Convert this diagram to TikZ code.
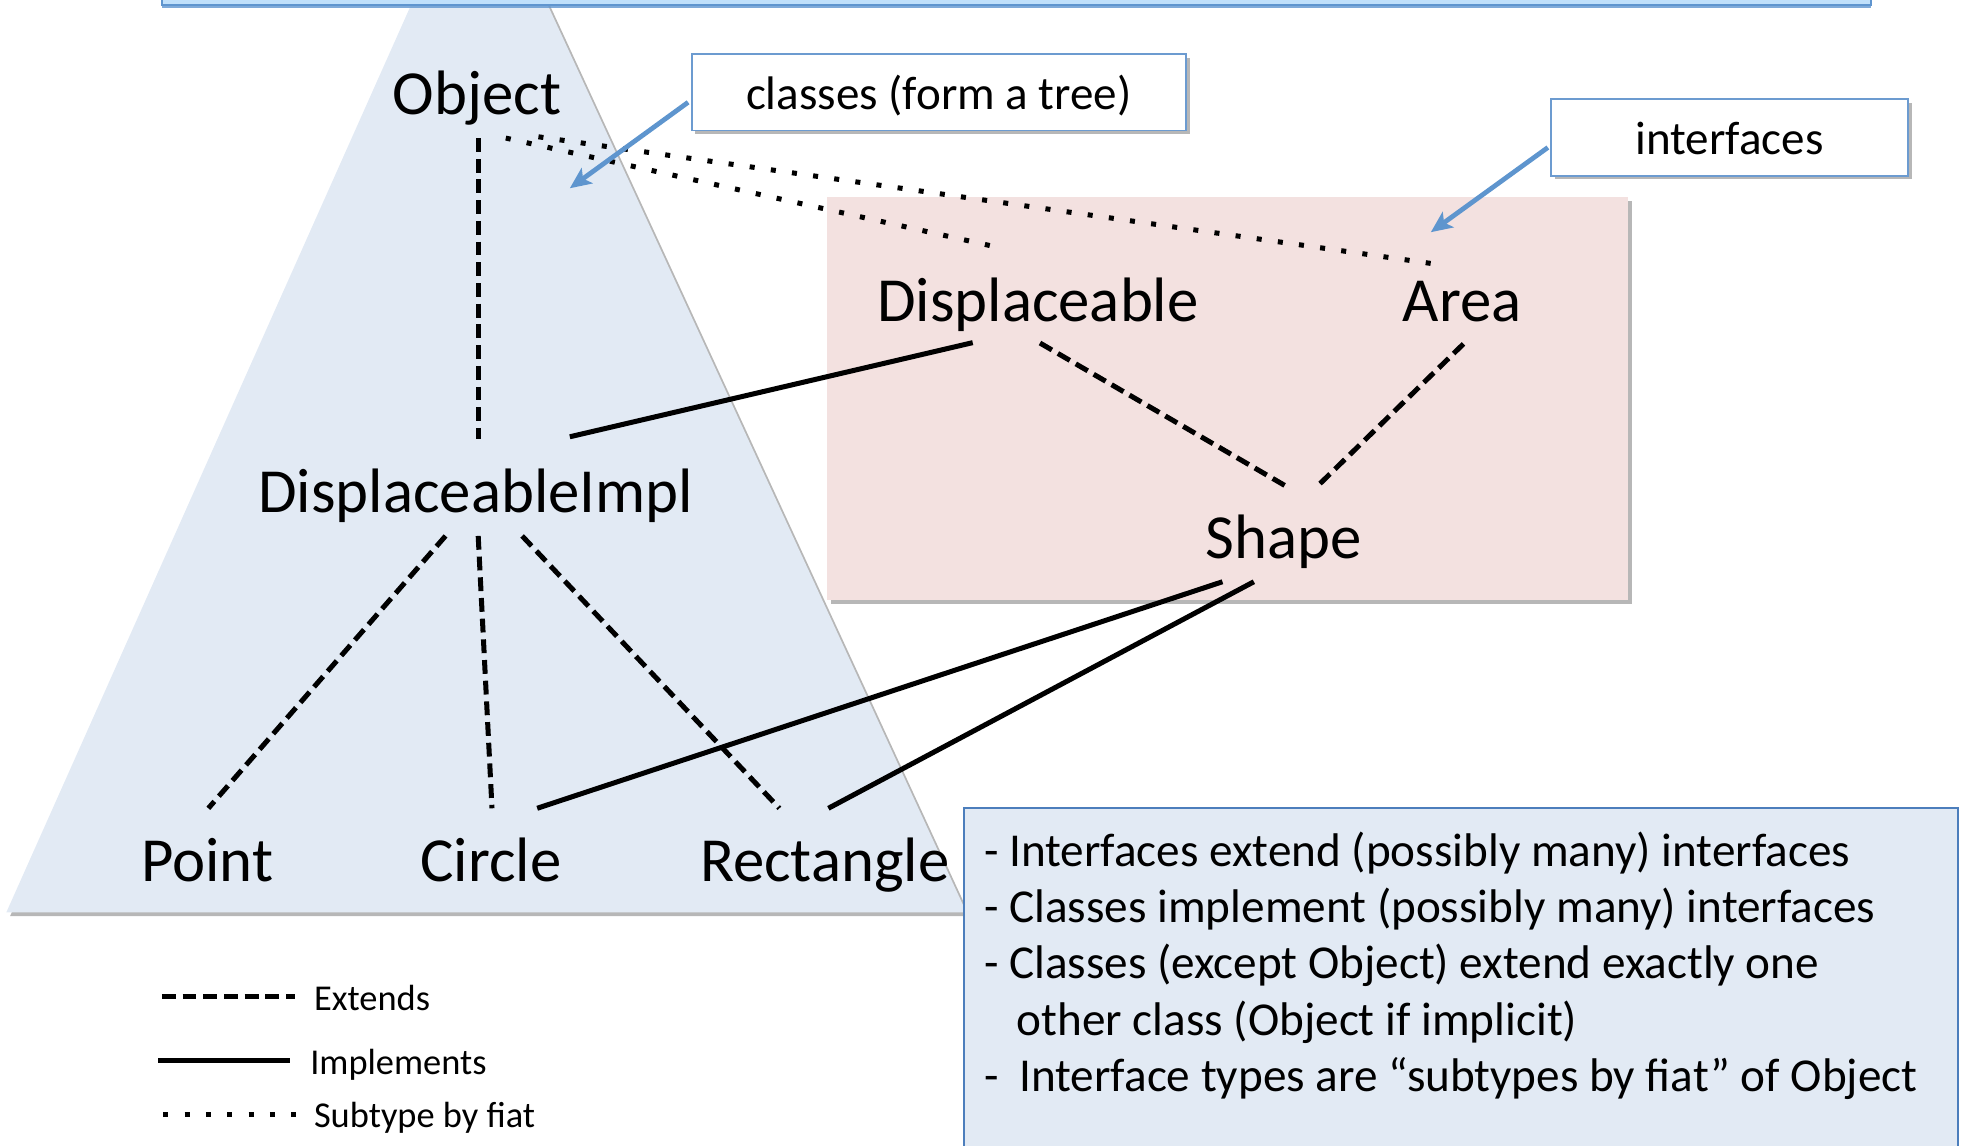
\documentclass[tikz,border=0pt]{standalone}
\usepackage{fontspec}
\setmainfont{Carlito}
\usetikzlibrary{arrows.meta,shadows,calc}

\definecolor{bannerfill}{HTML}{C0E0FB}
\definecolor{bannerline}{HTML}{5F95CF}
\definecolor{classfill}{HTML}{E2EAF4}
\definecolor{ifacefill}{HTML}{F3E1E0}
\definecolor{calloutline}{HTML}{6C9BD0}
\definecolor{notesline}{HTML}{4C7EBC}
\definecolor{pointer}{HTML}{5E95CE}

\begin{document}
\begin{tikzpicture}[
  x=1pt, y=-1pt,
  typename/.style={font=\fontsize{50}{60}\selectfont, inner sep=0pt, anchor=base},
  extends/.style={line width=4pt, dash pattern=on 11pt off 5.5pt},
  implements/.style={line width=4pt},
  fiat/.style={line width=4pt, dash pattern=on 4pt off 13pt},
  softshadow/.style={drop shadow={shadow xshift=3pt, shadow yshift=-3pt, opacity=0.4, fill=black!70}},
  callout/.style={draw=calloutline, line width=1.5pt, fill=white, inner sep=0pt,
    minimum height=61pt, text height=30pt, text depth=3pt,
    font=\fontsize{37.5}{45}\selectfont, softshadow},
  pointerarrow/.style={draw=pointer, line width=3.8pt, -{Stealth[length=17pt,width=15pt,inset=4pt]}},
  notetext/.style={font=\fontsize{37.6}{45}\selectfont, inner sep=0pt, anchor=base west},
  legendtext/.style={font=\fontsize{29}{35}\selectfont, inner sep=0pt, anchor=base west},
]
\useasboundingbox (0,0) rectangle (1568,913);
\clip (0,0) rectangle (1568,913);

% background regions: class tree, title strip, interface area
\fill[classfill, softshadow] (5,727) -- (381,-116) -- (770,727) -- cycle;
\path[draw=bannerline, line width=1.5pt, fill=bannerfill,
  drop shadow={shadow xshift=0pt, shadow yshift=-2.5pt, opacity=0.8, fill=bannerline}]
  (129,-30) rectangle (1491,4);
\fill[ifacefill, softshadow] (659,157) rectangle (1297,478);

% type names
\node[typename] (obj)    at (380,91)  {Object};
\node[typename] (disp)   at (827,256) {Displaceable};
\node[typename] (area)   at (1165,256) {Area};
\node[typename] (impl)   at (379,408) {DisplaceableImpl};
\node[typename] (shape)  at (1023,445) {Shape};
\node[typename] (point)  at (165,702) {Point};
\node[typename] (circle) at (391,702) {Circle};
\node[typename] (rect)   at (657,702) {Rectangle};

% subtype by fiat
\draw[fiat] ($(obj.base)+(23,19)$) -- ($(disp.base)+(-29.5,-58.4)$);
\draw[fiat] ($(obj.base)+(49,18)$) -- ($(area.base)+(-17,-45)$);

% extends
\draw[extends] ($(obj.base)+(1,19)$) -- ($(impl.base)+(2,-58)$);
\draw[extends] ($(disp.base)+(1.6,17.3)$) -- ($(shape.base)+(1,-58)$);
\draw[extends] ($(area.base)+(1,18)$) -- ($(shape.base)+(27,-58)$);
\draw[extends] ($(impl.base)+(-24,19)$) -- ($(point.base)+(1,-58)$);
\draw[extends] ($(impl.base)+(2,19)$) -- ($(circle.base)+(1,-58)$);
\draw[extends] ($(impl.base)+(37,19)$) -- ($(rect.base)+(-36,-58)$);

% implements
\draw[implements] ($(impl.base)+(75,-60)$) -- ($(disp.base)+(-52,17)$);
\draw[implements] ($(shape.base)+(-49,18.5)$) -- ($(circle.base)+(37,-58)$);
\draw[implements] ($(shape.base)+(-24,18.5)$) -- ($(rect.base)+(3,-58)$);

% callouts
\node[callout, minimum width=394pt] (classes) at (748,73.5) {classes (form a tree)};
\node[callout, minimum width=284pt] (ifaces) at (1378,109.5) {interfaces};
\coordinate (classtip) at (454,150);
\coordinate (ifacetip) at (1140,185);
\draw[pointerarrow] ($(classes.west)+(-2,8)$) -- (classtip);
\draw[pointerarrow] ($(ifaces.west)+(-2,8)$) -- (ifacetip);

% notes
\path[draw=notesline, line width=1.5pt, fill=classfill] (768,644) rectangle (1560,940);
\node[notetext] (n1) at (784,690) {- Interfaces extend (possibly many) interfaces};
\node[notetext] (n2) at (784,735) {- Classes implement (possibly many) interfaces};
\node[notetext] (n3) at (784,780) {- Classes (except Object) extend exactly one};
\node[notetext] (n4) at (810,825) {other class (Object if implicit)};
\node[notetext] (n5) at (784,870) {-\hspace{16.5pt}Interface types are “subtypes by fiat” of Object};

% legend
\node[legendtext] (lgext)  at (250,805) {Extends};
\node[legendtext] (lgimp)  at (247,856) {Implements};
\node[legendtext] (lgfiat) at (250,898) {Subtype by fiat};
\draw[extends] ($(lgext.base west)+(-121,-11)$) -- ($(lgext.base west)+(-15,-11)$);
\draw[implements] ($(lgimp.base west)+(-121,-11)$) -- ($(lgimp.base west)+(-16,-11)$);
\draw[fiat] ($(lgfiat.base west)+(-120,-10)$) -- ($(lgfiat.base west)+(-14,-10)$);
\end{tikzpicture}
\end{document}
